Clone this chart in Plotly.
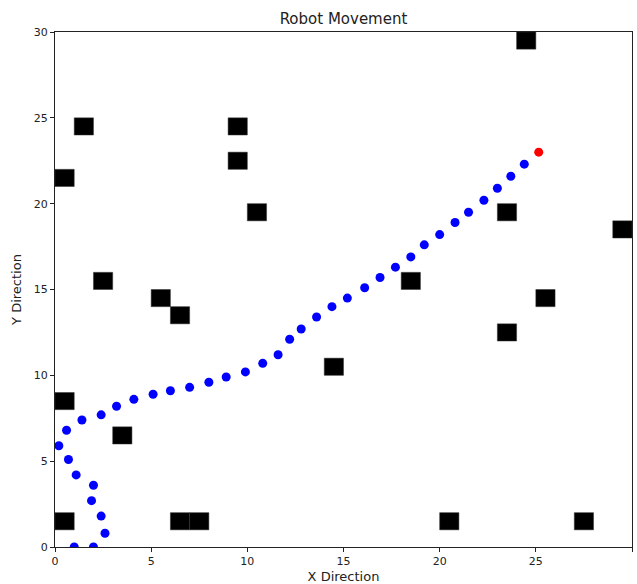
import plotly.graph_objects as go

# Robot path (blue dots)
path_x = [1.0, 2.0, 2.6, 2.4, 1.9, 2.0, 1.1, 0.7, 0.2, 0.6, 1.4, 2.4, 3.2, 4.1, 5.1, 6.0,
          7.0, 8.0, 8.9, 9.9, 10.8, 11.6, 12.2, 12.8, 13.6, 14.4, 15.2, 16.1, 16.9,
          17.7, 18.5, 19.2, 20.0, 20.8, 21.5, 22.3, 23.0, 23.7, 24.4]
path_y = [0.0, 0.0, 0.8, 1.8, 2.7, 3.6, 4.2, 5.1, 5.9, 6.8, 7.4, 7.7, 8.2, 8.6, 8.9, 9.1,
          9.3, 9.6, 9.9, 10.2, 10.7, 11.2, 12.1, 12.7, 13.4, 14.0, 14.5, 15.1, 15.7,
          16.3, 16.9, 17.6, 18.2, 18.9, 19.5, 20.2, 20.9, 21.6, 22.3]

# Current robot position (red dot)
robot_x = [25.15]
robot_y = [23.0]

# Obstacle cell centres (1x1 cells)
obs_x = [0.5, 6.5, 7.5, 20.5, 27.5, 0.5, 3.5, 2.5, 5.5, 6.5, 0.5, 1.5, 9.5, 9.5,
         10.5, 14.5, 18.5, 23.5, 23.5, 25.5, 24.5, 29.5]
obs_y = [1.5, 1.5, 1.5, 1.5, 1.5, 8.5, 6.5, 15.5, 14.5, 13.5, 21.5, 24.5, 24.5, 22.5,
         19.5, 10.5, 15.5, 19.5, 12.5, 14.5, 29.5, 18.5]

x_ticks = [0, 5, 10, 15, 20, 25, 30]
y_ticks = [0, 5, 10, 15, 20, 25, 30]

fig = go.Figure()

shapes = []
for cx, cy in zip(obs_x, obs_y):
    shapes.append(dict(type="rect", xref="x", yref="y",
                       x0=cx - 0.5, x1=cx + 0.5, y0=cy - 0.5, y1=cy + 0.5,
                       fillcolor="black", line=dict(color="#333333", width=0.5)))

fig.add_trace(go.Scatter(x=path_x, y=path_y, mode="markers",
                         marker=dict(color="blue", size=9), showlegend=False))
fig.add_trace(go.Scatter(x=robot_x, y=robot_y, mode="markers",
                         marker=dict(color="red", size=9), showlegend=False))

axis_common = dict(range=[0, 30], showgrid=False, zeroline=False, showline=True,
                   linecolor="#222", linewidth=1, mirror=True, ticks="outside",
                   ticklen=4, tickcolor="#222", tickfont=dict(size=11, color="#222"),
                   automargin=False)

fig.update_layout(
    width=637, height=584,
    margin=dict(l=55, r=5, t=32, b=37),
    paper_bgcolor="white", plot_bgcolor="white",
    font=dict(family="DejaVu Sans", color="#222"),
    shapes=shapes,
    title=dict(text="Robot Movement", x=0.5, xanchor="center", xref="paper",
               y=1 - 19 / 584, yanchor="middle", yref="container",
               font=dict(size=15, color="#222")),
    xaxis=dict(**axis_common, tickvals=x_ticks,
               title=dict(text="X Direction", font=dict(size=13), standoff=4)),
    yaxis=dict(**axis_common, tickvals=y_ticks,
               title=dict(text="Y Direction", font=dict(size=13), standoff=9)),
)

fig.write_html("out.html")
